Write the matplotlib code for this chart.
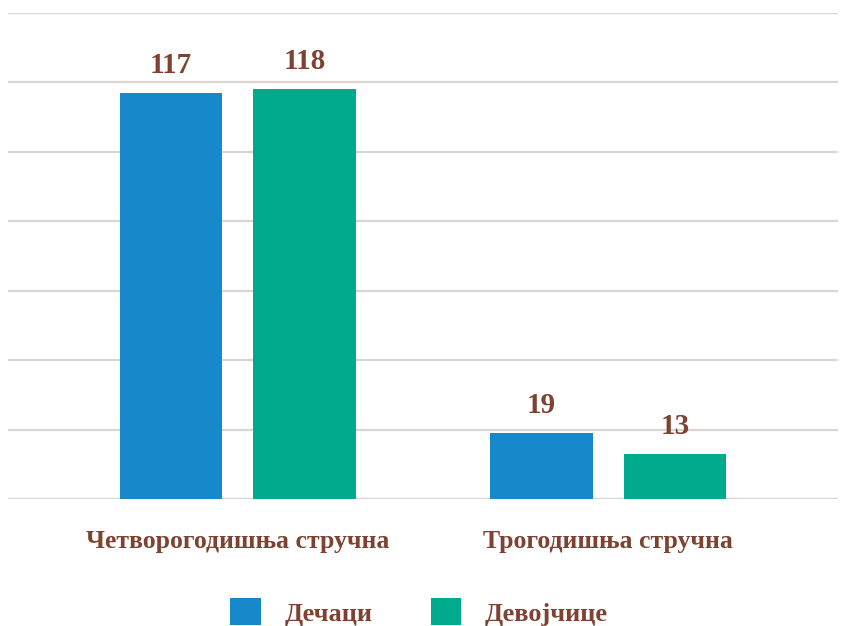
import matplotlib
matplotlib.use("Agg")
import matplotlib.pyplot as plt
from matplotlib.legend_handler import HandlerPatch
from matplotlib.patches import FancyBboxPatch
import numpy as np

categories = ["Четворогодишња стручна", "Трогодишња стручна"]
series_names = ["Дечаци", "Девојчице"]
boys = [117, 19]
girls = [118, 13]
colors = ["#1789CA", "#00AA8D"]
text_color = "#7D4230"
grid_color = "#D9D5D2"

plt.rcParams['font.family'] = ['Liberation Serif', 'DejaVu Serif']


class RoundSquare(HandlerPatch):
    def create_artists(self, legend, orig_handle, xdescent, ydescent,
                       width, height, fontsize, trans):
        s = min(width, height)
        x0 = -xdescent + (width - s) / 2
        y0 = -ydescent + (height - s) / 2
        p = FancyBboxPatch((x0, y0), s, s,
                           boxstyle="round,pad=0,rounding_size=%f" % (s * 0.15),
                           facecolor=orig_handle.get_facecolor(),
                           edgecolor="none", transform=trans)
        return [p]


fig = plt.figure(figsize=(8.49, 6.26), dpi=100)
ax = fig.add_axes([8/849, 127/626, 830/849, 486/626])

x = np.arange(len(categories))
w = 0.276
off = 0.18
b1 = ax.bar(x - off, boys, w, color=colors[0], label=series_names[0], zorder=3)
b2 = ax.bar(x + off, girls, w, color=colors[1], label=series_names[1], zorder=3)

for bars, vals in ((b1, boys), (b2, girls)):
    for r, v in zip(bars, vals):
        ax.annotate(str(v), (r.get_x() + r.get_width() / 2, v),
                    xytext=(0, 10), textcoords="offset points",
                    ha="center", va="bottom", fontsize=21, fontweight="bold",
                    color=text_color)

ax.set_ylim(0, 140)
ax.set_yticks(np.arange(0, 141, 20))
ax.set_xlim(-0.62, 1.62)
ax.set_xticks(x)
ax.set_xticklabels(categories, fontsize=18.5, fontweight="bold", color=text_color)
ax.tick_params(axis="x", length=0, pad=22)
ax.tick_params(axis="y", length=0, labelleft=False)
ax.grid(axis="y", color=grid_color, linewidth=1.6, zorder=0)
for s in ax.spines.values():
    s.set_visible(False)

leg = fig.legend(handles=[b1, b2], labels=series_names, loc="center",
                 bbox_to_anchor=(0.4935, 14/626), ncol=2, frameon=False,
                 handlelength=1.15, handleheight=1.15, handletextpad=0.9,
                 columnspacing=2.2, prop={"size": 19, "weight": "bold"},
                 handler_map={matplotlib.patches.Rectangle: RoundSquare()})
for t in leg.get_texts():
    t.set_color(text_color)

fig.savefig("out.png", dpi=100)
